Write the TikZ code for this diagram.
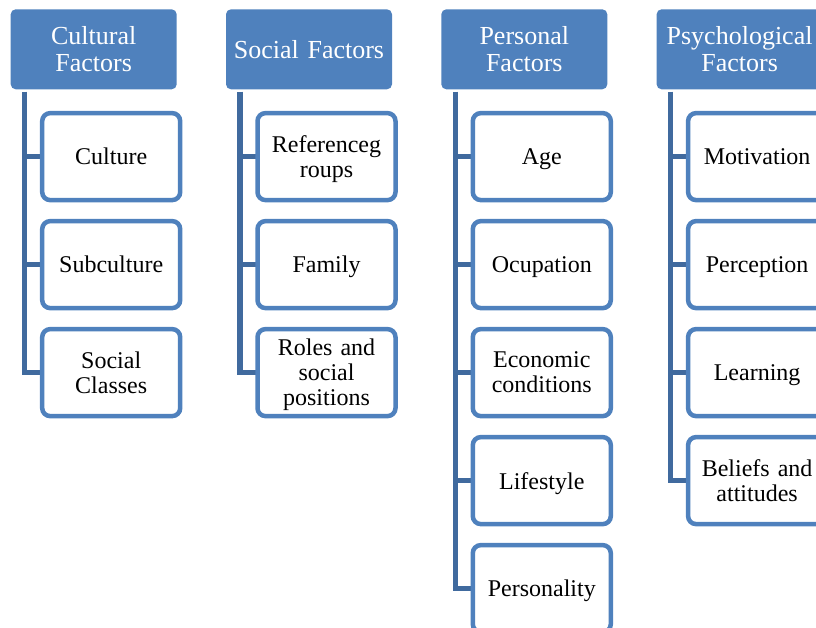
\documentclass[tikz,border=0pt]{standalone}
\usepackage{fontspec}
\setmainfont{Liberation Serif}
\usepackage{xcolor}
\usetikzlibrary{positioning,calc,backgrounds}
\definecolor{headblue}{RGB}{79,129,189}
\definecolor{linkblue}{RGB}{64,106,158}
\tikzset{
header/.style={
fill=headblue,
rounded corners=5pt,
minimum width=166pt,
minimum height=80pt,
text width=162pt,
inner sep=0pt,
outer sep=0pt,
align=center,
text=white,
font=\fontsize{26}{27}\selectfont
},
item/.style={
draw=headblue,
line width=4.5pt,
fill=white,
rounded corners=8pt,
minimum width=138pt,
minimum height=87pt,
text width=132pt,
inner sep=0pt,
outer sep=0pt,
align=center,
font=\fontsize{24}{25}\selectfont
},
word/.style={
item,
text depth=0pt
},
link/.style={
draw=linkblue,
line width=5.5pt
}
}

\begin{document}
\begin{tikzpicture}[node distance=21pt]
\clip (0,0) rectangle (816pt,-627pt);
% headers
\node[header](h1) at (93.7pt,-49.3pt){Cultural\\Factors};
\node[header,right=49.3pt of h1](h2){Social Factors};
\node[header,right=49.3pt of h2](h3){Personal\\Factors};
\node[header,right=49.3pt of h3](h4){Psychological\\Factors};

% cultural
\node[word,below=23.8pt of h1,xshift=17.5pt](a1){Culture};
\node[word,below=of a1](a2){Subculture};
\node[item,below=of a2](a3){Social\\Classes};

% social
\node[item,below=23.8pt of h2,xshift=17.5pt](b1){Referenceg\\\smash{roups}};
\node[word,below=of b1](b2){Family};
\node[item,below=of b2](b3){Roles and\\social\\\smash{positions}};

% personal
\node[word,below=23.8pt of h3,xshift=17.5pt](c1){Age};
\node[word,below=of c1](c2){Ocupation};
\node[item,below=of c2](c3){Economic\\conditions};
\node[word,below=of c3](c4){Lifestyle};
\node[word,below=of c4](c5){Personality};

% psychological
\node[word,below=23.8pt of h4,xshift=17.5pt](d1){Motivation};
\node[word,below=of d1](d2){Perception};
\node[word,below=of d2](d3){Learning};
\node[item,below=of d3](d4){Beliefs and\\attitudes};

% tree lines
\coordinate[below right=2.4pt and 14pt of h1.south west](ta);
\coordinate[below right=2.4pt and 14pt of h2.south west](tb);
\coordinate[below right=2.4pt and 14pt of h3.south west](tc);
\coordinate[below right=2.4pt and 14pt of h4.south west](td);

\begin{scope}[on background layer]
\draw[link](ta) |- (a3.west);
\draw[link](ta |- a1.west) -- (a1.west);
\draw[link](ta |- a2.west) -- (a2.west);

\draw[link](tb) |- (b3.west);
\draw[link](tb |- b1.west) -- (b1.west);
\draw[link](tb |- b2.west) -- (b2.west);

\draw[link](tc) |- (c5.west);
\draw[link](tc |- c1.west) -- (c1.west);
\draw[link](tc |- c2.west) -- (c2.west);
\draw[link](tc |- c3.west) -- (c3.west);
\draw[link](tc |- c4.west) -- (c4.west);

\draw[link](td) |- (d4.west);
\draw[link](td |- d1.west) -- (d1.west);
\draw[link](td |- d2.west) -- (d2.west);
\draw[link](td |- d3.west) -- (d3.west);
\end{scope}
\end{tikzpicture}
\end{document}
